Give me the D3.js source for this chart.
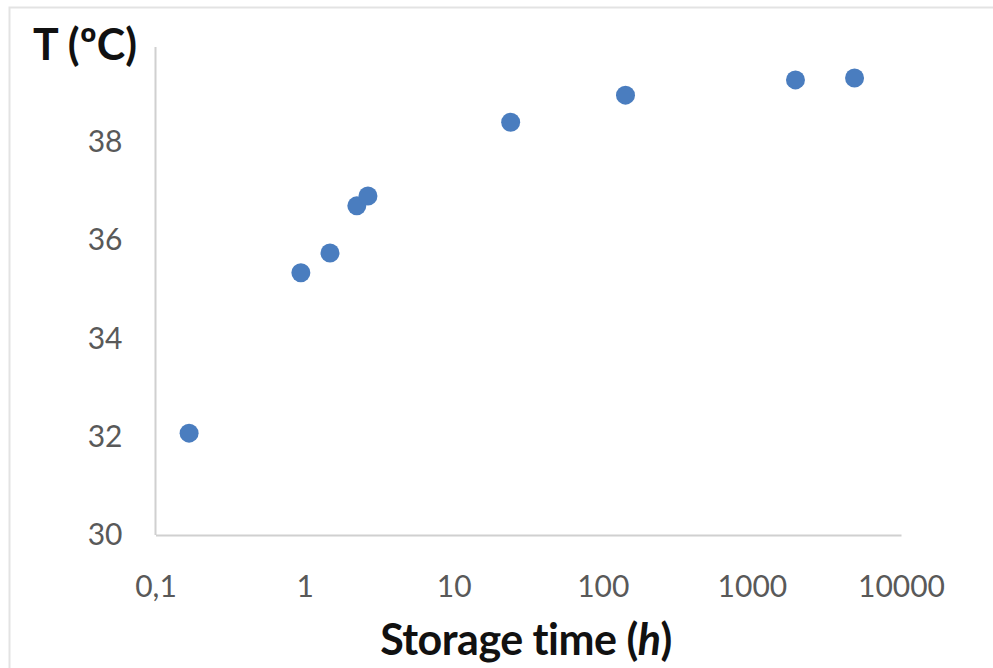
<!DOCTYPE html>
<html>
<head>
<meta charset="utf-8">
<script src="https://cdn.jsdelivr.net/npm/d3@7"></script>
<style>
  body { margin: 0; background: #fff; }
  svg text { font-family: Lato, "Open Sans", sans-serif; }
</style>
</head>
<body>
<div id="chart"></div>
<script>
// storage time (h) and temperature (ºC)
const hours = [0.168, 0.944, 1.48, 2.24, 2.66, 24.1, 142, 1960, 4880];
const temps = [32.07, 35.33, 35.73, 36.69, 36.89, 38.39, 38.94, 39.25, 39.29];
const xTicks = [0.1, 1, 10, 100, 1000, 10000];
const xTickLabels = ["0,1", "1", "10", "100", "1000", "10000"];
const yTicks = [30, 32, 34, 36, 38];

const width = 993, height = 668;
const margin = {top: 43, right: 92, bottom: 133, left: 155.5};

const svg = d3.select("#chart")
  .append("svg")
  .attr("width", width)
  .attr("height", height);

// outer chart frame
svg.append("rect")
  .attr("x", 9.5).attr("y", 7.5)
  .attr("width", width + 20).attr("height", height + 20)
  .attr("fill", "none")
  .attr("stroke", "#e3e3e3")
  .attr("stroke-width", 2);

const x = d3.scaleLog()
  .domain([0.1, 10000])
  .range([margin.left, width - margin.right]);

const y = d3.scaleLinear()
  .domain([30, 40])
  .range([height - margin.bottom, margin.top]);

// x axis
const xAxis = svg.append("g")
  .attr("transform", "translate(0," + y(30) + ")")
  .call(d3.axisBottom(x).tickValues(xTicks).tickSize(0)
    .tickFormat((d, i) => xTickLabels[i]));
xAxis.select(".domain").attr("stroke", "#d0d0d0").attr("stroke-width", 2);
xAxis.selectAll("text")
  .attr("dy", 0)
  .attr("y", 62)
  .style("font-size", "30px")
  .style("fill", "#595959");

// y axis
const yAxis = svg.append("g")
  .attr("transform", "translate(" + x(0.1) + ",0)")
  .call(d3.axisLeft(y).tickValues(yTicks).tickSize(0).tickPadding(33));
yAxis.select(".domain").remove();
yAxis.append("line")
  .attr("x1", 0).attr("x2", 0)
  .attr("y1", 47).attr("y2", y(30))
  .attr("stroke", "#d0d0d0")
  .attr("stroke-width", 2);
yAxis.selectAll("text")
  .attr("dy", "0.33em")
  .style("font-size", "30px")
  .style("fill", "#595959");

// points
svg.selectAll("circle.pt")
  .data(hours.map((h, i) => ({h: h, t: temps[i]})))
  .join("circle")
  .attr("class", "pt")
  .attr("cx", d => x(d.h))
  .attr("cy", d => y(d.t))
  .attr("r", 9.5)
  .attr("fill", "#4a7dbf");

// axis titles
svg.append("text")
  .attr("x", 33).attr("y", 60)
  .attr("textLength", 104)
  .attr("lengthAdjust", "spacingAndGlyphs")
  .style("font-size", "44px")
  .style("font-weight", "bold")
  .style("fill", "#111")
  .text("T (ºC)");

const xt = svg.append("text")
  .attr("x", 526).attr("y", 655)
  .attr("text-anchor", "middle")
  .style("font-size", "43px")
  .style("font-weight", "bold")
  .style("letter-spacing", "-0.5px")
  .style("fill", "#111");
xt.append("tspan").text("Storage time (");
xt.append("tspan").style("font-style", "italic").text("h");
xt.append("tspan").text(")");
</script>
</body>
</html>
